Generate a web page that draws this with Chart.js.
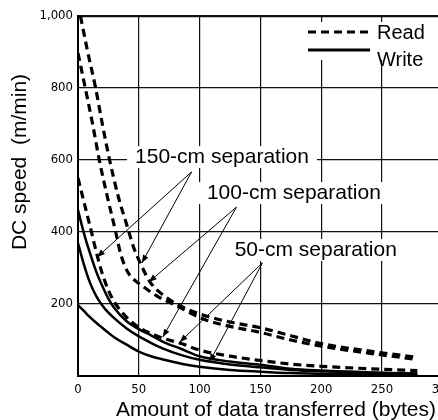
<!DOCTYPE html>
<html>
<head>
<meta charset="utf-8">
<script src="https://cdn.jsdelivr.net/npm/chart.js@4/dist/chart.umd.min.js"></script>
<style>
  html, body { margin: 0; padding: 0; background: #fff; overflow: hidden; }
  #wrap { width: 438px; height: 420px; overflow: hidden; }
</style>
</head>
<body>
<div id="wrap"><canvas id="grafico" width="460" height="420"></canvas></div>
<script>
// valores (x = bytes, y = m/min)
const xReadHigh = [2, 8, 14.5, 20, 26, 33, 41, 46, 52, 59, 70, 85, 104, 125, 150, 175, 200, 240, 279];
const yReadHigh = [1000, 900, 800, 700, 600, 500, 410, 355, 308, 262, 225, 193, 168, 150, 134, 112, 90, 69, 52];

const xReadMid = [0, 6, 12, 17.5, 24, 31, 35, 41, 48, 55, 65, 80, 104, 125, 150, 175, 200, 240, 279];
const yReadMid = [897, 800, 700, 600, 500, 400, 340, 288, 262, 245, 222, 197, 157, 138, 121, 100, 83, 63, 46];

const xCommon = [0, 5, 10, 15, 20, 25, 30, 40, 50, 60, 70, 85, 100, 125, 150, 175, 200, 240, 279];
const yReadLow = [550, 482, 415, 345, 284, 238, 205, 163, 135, 118, 105, 90, 72, 55, 43, 33, 27, 20, 15];
const yWriteHigh = [461, 395, 340, 290, 250, 215, 188, 152, 130, 113, 95, 75, 55, 40, 31, 20, 15, 10, 7];
const yWriteMid = [369, 308, 258, 222, 196, 176, 160, 132, 110, 92, 76, 58, 45, 32, 24, 17, 13, 9, 6];
const yWriteLow = [197, 180, 163, 148, 134, 120, 107, 87, 68, 55, 46, 34, 26, 17, 12, 8, 6, 4, 3];

const xTicksStep = 50;
const yTicksStep = 200;

// etiquetas con flechas: [texto, x, y, puntas]
const etiquetas = [
    ['150-cm separation', 118.4, 608, [93.4, 567], [[15.6, 330], [52.5, 314]]],
    ['100-cm separation', 177.5, 508, [130.3, 469], [[58.2, 261], [69.7, 108]]],
    ['50-cm separation', 195.5, 350, [151.6, 314], [[83.6, 94], [108.2, 39]]]
];

const leyenda = ['Read', 'Write'];
const tituloY = 'DC speed  (m/min)';
const tituloX = 'Amount of data transferred (bytes)';

function puntos(xs, ys) {
    return xs.map((x, i) => ({ x: x, y: ys[i] }));
}

const fuenteTicks = { family: '"Liberation Sans Narrow", "DejaVu Sans Condensed", Arial, sans-serif', size: 13 };
const fuenteTexto = '"Liberation Sans", Arial, sans-serif';

const estiloLeer = { borderColor: '#000', borderWidth: 3.2, borderDash: [8, 5], pointRadius: 0, fill: false, cubicInterpolationMode: 'monotone' };
const estiloEscribir = { borderColor: '#000', borderWidth: 2.5, pointRadius: 0, fill: false, cubicInterpolationMode: 'monotone' };

function flecha(ctx, x1, y1, x2, y2) {
    ctx.beginPath();
    ctx.moveTo(x1, y1);
    ctx.lineTo(x2, y2);
    ctx.stroke();
    const ang = Math.atan2(y2 - y1, x2 - x1);
    const len = 8, ancho = 3;
    ctx.beginPath();
    ctx.moveTo(x2, y2);
    ctx.lineTo(x2 - len * Math.cos(ang) + ancho * Math.sin(ang), y2 - len * Math.sin(ang) - ancho * Math.cos(ang));
    ctx.lineTo(x2 - len * Math.cos(ang) - ancho * Math.sin(ang), y2 - len * Math.sin(ang) + ancho * Math.cos(ang));
    ctx.closePath();
    ctx.fill();
}

const decoracion = {
    id: 'decoracion',
    afterDatasetsDraw(chart) {
        const ctx = chart.ctx;
        const area = chart.chartArea;
        const sx = chart.scales.x, sy = chart.scales.y;
        ctx.save();

        // etiquetas de separacion con fondo blanco
        ctx.font = '21px ' + fuenteTexto;
        ctx.textAlign = 'center';
        ctx.textBaseline = 'middle';
        etiquetas.forEach(e => {
            const px = sx.getPixelForValue(e[1]);
            const py = sy.getPixelForValue(e[2]);
            const w = ctx.measureText(e[0]).width;
            ctx.fillStyle = '#fff';
            ctx.fillRect(px - w / 2 - 8, py - 11, w + 16, 22);
            ctx.fillStyle = '#000';
            ctx.fillText(e[0], px, py);
        });

        // flechas
        ctx.strokeStyle = '#000';
        ctx.fillStyle = '#000';
        ctx.lineWidth = 1;
        etiquetas.forEach(e => {
            const ax = sx.getPixelForValue(e[3][0]);
            const ay = sy.getPixelForValue(e[3][1]);
            e[4].forEach(p => {
                flecha(ctx, ax, ay, sx.getPixelForValue(p[0]), sy.getPixelForValue(p[1]));
            });
        });

        // leyenda
        const lx = area.left + 222;
        ctx.fillStyle = '#fff';
        ctx.fillRect(lx, area.top + 6, 160, 38);
        ctx.strokeStyle = '#000';
        ctx.lineWidth = 3.2;
        ctx.setLineDash([8, 5]);
        ctx.beginPath();
        ctx.moveTo(lx + 8, area.top + 16);
        ctx.lineTo(lx + 70, area.top + 16);
        ctx.stroke();
        ctx.setLineDash([]);
        ctx.lineWidth = 3;
        ctx.beginPath();
        ctx.moveTo(lx + 8, area.top + 34);
        ctx.lineTo(lx + 70, area.top + 34);
        ctx.stroke();
        ctx.fillStyle = '#000';
        ctx.font = '20px ' + fuenteTexto;
        ctx.textAlign = 'left';
        ctx.fillText(leyenda[0], lx + 77, area.top + 17);
        ctx.fillText(leyenda[1], lx + 77, area.top + 44);

        // titulos de ejes
        ctx.font = '21px ' + fuenteTexto;
        ctx.textAlign = 'center';
        ctx.fillText(tituloX, area.left + 198, area.bottom + 34);
        ctx.translate(area.left - 58, area.top + 146);
        ctx.rotate(-Math.PI / 2);
        ctx.fillText(tituloY, 0, 0);
        ctx.restore();
    }
};

new Chart(document.getElementById('grafico'), {
    type: 'line',
    data: {
        datasets: [
            Object.assign({ label: 'Read 1', data: puntos(xReadHigh, yReadHigh) }, estiloLeer),
            Object.assign({ label: 'Read 2', data: puntos(xReadMid, yReadMid) }, estiloLeer),
            Object.assign({ label: 'Read 3', data: puntos(xCommon, yReadLow) }, estiloLeer),
            Object.assign({ label: 'Write 1', data: puntos(xCommon, yWriteHigh) }, estiloEscribir),
            Object.assign({ label: 'Write 2', data: puntos(xCommon, yWriteMid) }, estiloEscribir),
            Object.assign({ label: 'Write 3', data: puntos(xCommon, yWriteLow) }, estiloEscribir)
        ]
    },
    options: {
        responsive: false,
        animation: false,
        layout: { padding: { top: 16, right: 16, left: 0, bottom: 0 } },
        plugins: { legend: { display: false }, tooltip: { enabled: false } },
        scales: {
            x: {
                type: 'linear', min: 0, max: 300,
                ticks: { stepSize: xTicksStep, padding: 6, color: '#000', font: fuenteTicks, maxRotation: 0 },
                grid: { color: '#111', lineWidth: 1.2, drawTicks: false },
                border: { color: '#000', width: 2 },
                afterFit(s) { s.height = 44; }
            },
            y: {
                min: 0, max: 1000,
                ticks: {
                    stepSize: yTicksStep, padding: 5, color: '#000', font: fuenteTicks,
                    callback: v => v === 0 ? '' : v.toLocaleString('en-US')
                },
                grid: { color: '#111', lineWidth: c => (c.tick && c.tick.value === 1000) ? 2.2 : 1.2, drawTicks: false },
                border: { color: '#000', width: 2 },
                afterFit(s) { s.width = 78; }
            }
        }
    },
    plugins: [decoracion]
});
</script>
</body>
</html>
